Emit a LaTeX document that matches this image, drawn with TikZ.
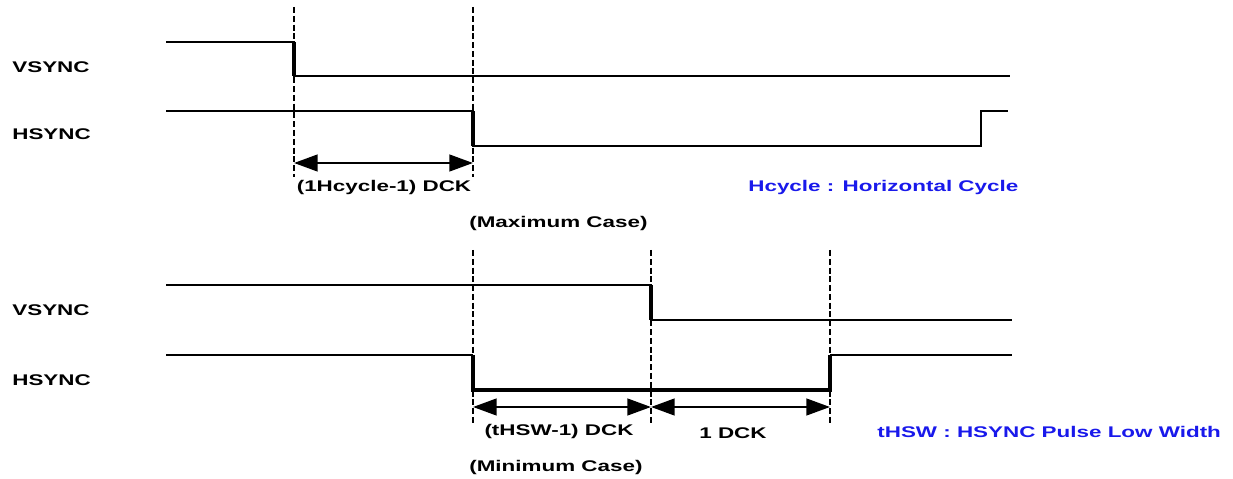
\documentclass[tikz,border=0pt]{standalone}
\usepackage{fontspec}
\setmainfont{Liberation Sans}
\usetikzlibrary{arrows.meta}
\definecolor{noteblue}{RGB}{25,25,235}
\newcommand{\wide}[1]{\scalebox{1.45}[1]{#1}}

\begin{document}
\begin{tikzpicture}[x=0.02cm, y=-0.02cm,
	every node/.style={font=\fontsize{8.8}{10}\selectfont\bfseries, inner sep=0pt},
	signal/.style={line width=1.4pt},
	thick signal/.style={line width=2pt},
	guide/.style={dashed, line width=1.4pt, dash pattern=on 3.4pt off 1.6pt},
	span/.style={line width=1.4pt, {Triangle[length=13.5pt,width=9.5pt]}-{Triangle[length=13.5pt,width=9.5pt]}},
	note/.style={text=noteblue}]
	\useasboundingbox (0,0) rectangle (1233,479);
	% maximum case
	\node[anchor=west] (vmax) at (12,67) {\wide{VSYNC}};
	\node[anchor=west] (hmax) at (12,134) {\wide{HSYNC}};
	\draw[signal] (166,42) -- (294,42) -- (294,76) -- (1010,76);
	\draw[signal] (166,111) -- (473,111) -- (473,146) -- (981,146) -- (981,111) -- (1008,111);
	\draw[thick signal] (294,42) -- (294,76);
	\draw[thick signal] (473,111) -- (473,146);
	\coordinate (t1) at (294,7);   \coordinate (b1) at (294,177);
	\coordinate (t2) at (473,7);   \coordinate (b2) at (473,177);
	\draw[guide] (t1) -- (b1);
	\draw[guide] (t2) -- (b2);
	\coordinate (s1) at (294,163); \coordinate (s2) at (473,163);
	\draw[span] (s1) -- (s2);
	\node (cyc) at (384,188) {\wide{(1Hcycle-1) DCK}};
	\node[anchor=west, note] (cycnote) at (748,188) {\wide{Hcycle : Horizontal Cycle}};
	\node[anchor=west] (maxcase) at (469,224) {\wide{(Maximum Case)}};
	% minimum case
	\node[anchor=west] (vmin) at (12,310) {\wide{VSYNC}};
	\node[anchor=west] (hmin) at (12,380) {\wide{HSYNC}};
	\draw[signal] (166,285) -- (651,285) -- (651,320) -- (1012,320);
	\draw[thick signal] (651,285) -- (651,320);
	\draw[signal] (166,355) -- (473,355);
	\draw[thick signal] (473,355) -- (473,390) -- (830,390) -- (830,355);
	\draw[signal] (830,355) -- (1012,355);
	\coordinate (t3) at (473,250); \coordinate (b3) at (473,423);
	\coordinate (t4) at (651,250); \coordinate (b4) at (651,423);
	\coordinate (t5) at (830,250); \coordinate (b5) at (830,423);
	\draw[guide] (t3) -- (b3);
	\draw[guide] (t4) -- (b4);
	\draw[guide] (t5) -- (b5);
	\coordinate (s3) at (473,407); \coordinate (s4) at (651,407); \coordinate (s5) at (830,407);
	\draw[span] (s3) -- (s4);
	\draw[span] (s4) -- (s5);
	\node (hsw) at (559,432) {\wide{(tHSW-1) DCK}};
	\node (onedck) at (733,433) {\wide{1 DCK}};
	\node[anchor=west, note] (hswnote) at (877,432) {\wide{tHSW : HSYNC Pulse Low Width}};
	\node[anchor=west] (mincase) at (469,467) {\wide{(Minimum Case)}};
\end{tikzpicture}
\end{document}
